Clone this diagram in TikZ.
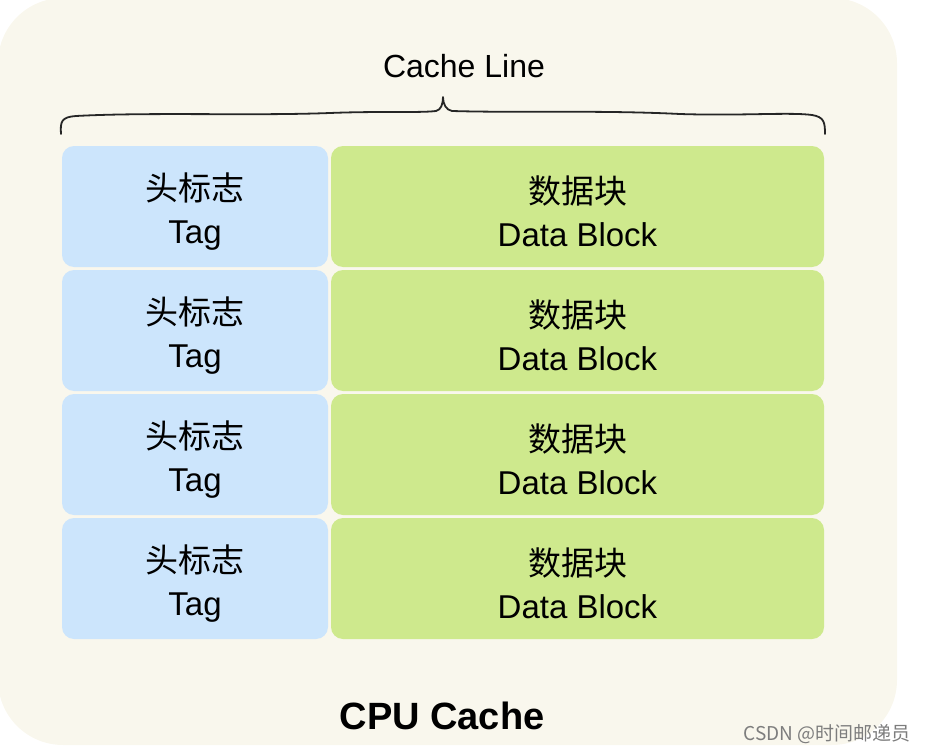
\documentclass[tikz,border=0pt]{standalone}
\usepackage{fontspec}
\setmainfont{Liberation Sans}
\newfontfamily\cjk{Noto Sans CJK SC}
\definecolor{cream}{RGB}{249,247,237}
\definecolor{tagblue}{RGB}{204,229,252}
\definecolor{datagreen}{RGB}{206,233,141}
\definecolor{wmgray}{RGB}{125,125,125}
\tikzset{
  cellbox/.style={rounded corners=12pt, inner sep=0pt},
  tagbox/.style={cellbox, fill=tagblue, minimum width=266pt, minimum height=121pt},
  databox/.style={cellbox, fill=datagreen, minimum width=493pt, minimum height=121pt},
  celltext/.style={align=center, inner sep=0pt, font=\fontsize{33}{43}\selectfont},
  bracepath/.style={line width=1.8pt, line cap=round, line join=round, black!85}
}
\begin{document}
\begin{tikzpicture}[x=1pt,y=-1pt]
\useasboundingbox (0,0) rectangle (930,752);
% background
\fill[cream, rounded corners=65pt] (-2,-2) rectangle (897,745);
% cells
\foreach \i/\y in {1/206.5, 2/330.5, 3/454.5, 4/578.5}{
  \node[tagbox] (t\i) at (195,\y) {};
  \node[databox] (d\i) at (577.5,\y) {};
  \node[celltext] (tt\i) at ([yshift=-5pt]t\i.center) {{\cjk 头标志}\\Tag};
  \node[celltext] (dt\i) at ([yshift=-5pt]d\i.center) {{\cjk 数据块}\\Data Block};
}
% brace
\draw[bracepath] (61,134) .. controls (60,121) and (62,117) .. (76,116)
  .. controls (150,112) and (250,116) .. (330,113)
  .. controls (380,111) and (420,113) .. (436,111)
  .. controls (441,110) and (443,104) .. (443,97)
  .. controls (443,104) and (446,110) .. (452,111)
  .. controls (520,113) and (600,110) .. (680,114)
  .. controls (740,116) and (790,112) .. (812,115)
  .. controls (824,117) and (825,122) .. (825,134);
\node[font=\fontsize{32}{36}\selectfont] (cl) at (464,66) {Cache Line};
\node[font=\fontsize{38}{44}\selectfont\bfseries] (cpu) at (442,716) {CPU Cache};
\node[font=\cjk\fontsize{19}{22}\selectfont, text=wmgray, anchor=east] (wm) at (914,734) {CSDN @时间邮递员};
\end{tikzpicture}
\end{document}
